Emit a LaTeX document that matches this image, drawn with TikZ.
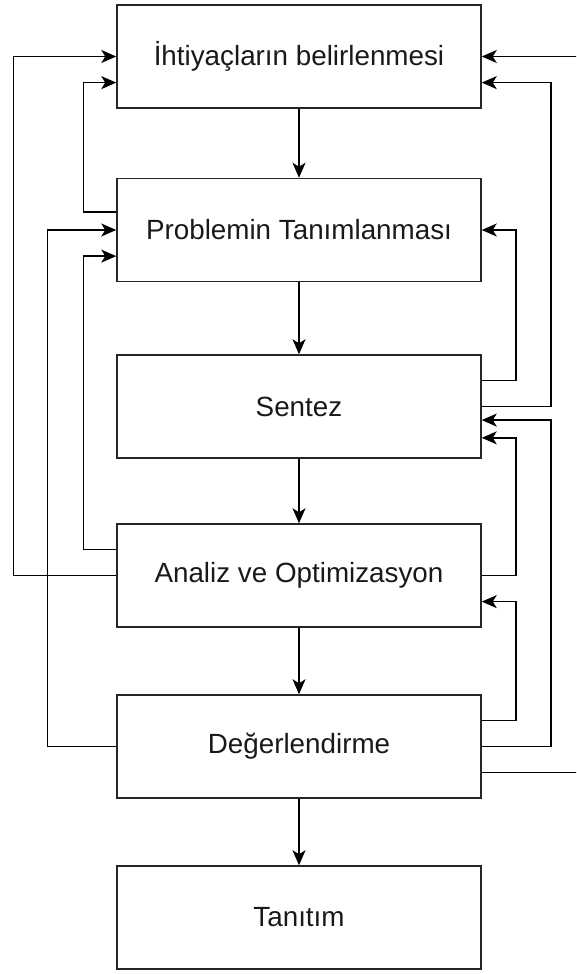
\documentclass[tikz,border=0pt]{standalone}
\usepackage{fontspec}
\setmainfont{Liberation Sans}
\usetikzlibrary{arrows.meta,calc}
\tikzset{
  box/.style={draw=black!85, line width=1.5pt, rectangle, minimum width=364pt, minimum height=103pt, inner sep=0pt, font=\fontsize{27.8pt}{32pt}\selectfont, text=black!90},
  conn/.style={draw=black, line width=1.5pt, -{Stealth[length=15pt,width=13pt,inset=4pt]}},
}
\begin{document}
\begin{tikzpicture}[x=1pt,y=-1pt]
\useasboundingbox (0,0) rectangle (576,974);
\clip (0,0) rectangle (576,974);
\node[box] (n1) at (299,56.5) {İhtiyaçların belirlenmesi};
\node[box] (n2) at (299,230) {Problemin Tanımlanması};
\node[box] (n3) at (299,406.5) {Sentez};
\node[box] (n4) at (299,575.5) {Analiz ve Optimizasyon};
\node[box] (n5) at (299,746.5) {Değerlendirme};
\node[box] (n6) at (299,917.5) {Tanıtım};
% down arrows
\draw[conn] (n1) -- (n2);
\draw[conn] (n2) -- (n3);
\draw[conn] (n3) -- (n4);
\draw[conn] (n4) -- (n5);
\draw[conn] (n5) -- (n6);
% left feedback
\draw[conn] (n4.west) -- ++(-103,0) |- (n1.west);
\draw[conn] ($(n2.north west)!0.33!(n2.south west)$) -- ++(-33,0) |- ($(n1.north west)!0.75!(n1.south west)$);
\draw[conn] (n5.west) -- ++(-69,0) |- (n2.west);
\draw[conn] ($(n4.north west)!0.25!(n4.south west)$) -- ++(-33,0) |- ($(n2.north west)!0.75!(n2.south west)$);
% right feedback
\draw[conn] ($(n5.north east)!0.75!(n5.south east)$) -- ++(130,0) |- (n1.east);
\draw[conn] (n3.east) -- ++(69,0) |- ($(n1.north east)!0.75!(n1.south east)$);
\draw[conn] ($(n3.north east)!0.25!(n3.south east)$) -- ++(34,0) |- (n2.east);
\draw[conn] (n5.east) -- ++(69,0) |- ($(n3.north east)!0.63!(n3.south east)$);
\draw[conn] (n4.east) -- ++(34,0) |- ($(n3.north east)!0.8!(n3.south east)$);
\draw[conn] ($(n5.north east)!0.25!(n5.south east)$) -- ++(34,0) |- ($(n4.north east)!0.75!(n4.south east)$);
\end{tikzpicture}
\end{document}
